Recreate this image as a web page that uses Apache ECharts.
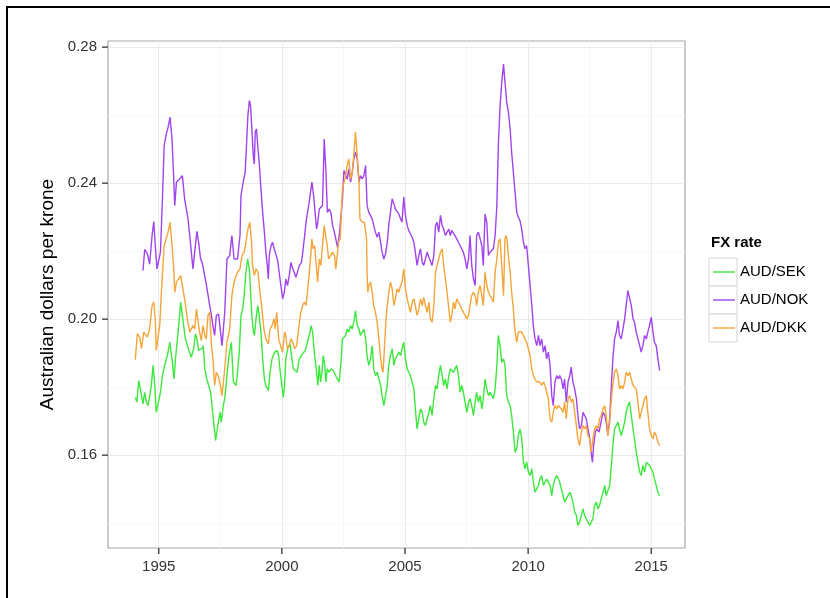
<!DOCTYPE html>
<html>
<head>
<meta charset="utf-8">
<script src="https://cdn.jsdelivr.net/npm/echarts/dist/echarts.min.js"></script>
<style>
html,body{margin:0;padding:0;background:#fff;}
#c{width:830px;height:598px;}
</style>
</head>
<body>
<div id="c"></div>
<script>
var seriesNames = ['AUD/SEK', 'AUD/NOK', 'AUD/DKK'];
var xTicks = [1995, 2000, 2005, 2010, 2015];
var xMinorTicks = [1997.5, 2002.5, 2007.5, 2012.5];
var yTicks = [0.16, 0.20, 0.24, 0.28];
var yMinorTicks = [0.14, 0.18, 0.22, 0.26];
var xRange = [1992.94, 2016.37];
var yRange = [0.1327, 0.2818];

var audSek = [[1994.05,0.1770],[1994.11,0.1756],[1994.19,0.1819],[1994.27,0.1815],[1994.36,0.1751],[1994.43,0.1785],[1994.50,0.1756],[1994.57,0.1746],[1994.63,0.1741],[1994.70,0.1805],[1994.77,0.1864],[1994.84,0.1805],[1994.90,0.1726],[1994.97,0.1731],[1995.07,0.1785],[1995.15,0.1834],[1995.24,0.1864],[1995.35,0.1893],[1995.45,0.1932],[1995.54,0.1883],[1995.62,0.1824],[1995.68,0.1883],[1995.76,0.1942],[1995.85,0.2011],[1995.89,0.2050],[1995.96,0.2011],[1996.03,0.1971],[1996.08,0.1942],[1996.16,0.1937],[1996.23,0.1908],[1996.32,0.1888],[1996.42,0.1913],[1996.49,0.1957],[1996.55,0.1942],[1996.62,0.1908],[1996.70,0.1908],[1996.76,0.1913],[1996.81,0.1922],[1996.87,0.1854],[1996.95,0.1824],[1997.03,0.1819],[1997.11,0.1785],[1997.20,0.1717],[1997.27,0.1672],[1997.31,0.1643],[1997.41,0.1692],[1997.49,0.1726],[1997.54,0.1697],[1997.62,0.1746],[1997.68,0.1766],[1997.77,0.1834],[1997.85,0.1893],[1997.95,0.1932],[1998.03,0.1815],
[1998.14,0.1805],[1998.20,0.1844],[1998.27,0.1903],[1998.34,0.2011],[1998.41,0.2030],[1998.47,0.2070],[1998.54,0.2138],[1998.61,0.2177],[1998.68,0.2148],[1998.73,0.2079],[1998.79,0.2001],[1998.85,0.1962],[1998.89,0.1952],[1998.95,0.2001],[1999.02,0.2040],[1999.08,0.2011],[1999.15,0.1962],[1999.22,0.1883],[1999.29,0.1824],[1999.35,0.1805],[1999.45,0.1790],[1999.52,0.1844],[1999.60,0.1883],[1999.65,0.1893],[1999.71,0.1903],[1999.76,0.1898],[1999.81,0.1908],[1999.87,0.1893],[1999.92,0.1854],[2000.00,0.1805],[2000.06,0.1770],[2000.11,0.1805],[2000.16,0.1883],[2000.25,0.1917],[2000.33,0.1927],[2000.41,0.1883],[2000.46,0.1854],[2000.54,0.1859],[2000.62,0.1844],[2000.71,0.1883],[2000.79,0.1893],[2000.87,0.1898],[2000.95,0.1908],[2001.04,0.1932],[2001.14,0.1962],[2001.19,0.1981],[2001.25,0.1962],[2001.33,0.1893],[2001.41,0.1844],[2001.46,0.1805],[2001.52,0.1864],[2001.57,0.1815],[2001.63,0.1844],[2001.68,0.1893],[2001.73,0.1873],[2001.79,0.1815],[2001.84,0.1854],[2001.92,0.1844],[2002.00,0.1854],[2002.09,0.1849],[2002.17,0.1844],[2002.25,0.1824],[2002.33,0.1815],[2002.41,0.1883],[2002.46,0.1942],
[2002.59,0.1952],[2002.65,0.1971],[2002.72,0.1962],[2002.79,0.1981],[2002.86,0.1971],[2002.92,0.1991],[2002.99,0.2025],[2003.06,0.1981],[2003.13,0.1971],[2003.19,0.1952],[2003.26,0.1962],[2003.33,0.1971],[2003.40,0.1942],[2003.46,0.1893],[2003.53,0.1864],[2003.60,0.1883],[2003.67,0.1922],[2003.73,0.1854],[2003.80,0.1834],[2003.87,0.1844],[2003.94,0.1824],[2004.01,0.1805],[2004.07,0.1775],[2004.14,0.1746],[2004.21,0.1746],[2004.28,0.1805],[2004.34,0.1864],[2004.41,0.1893],[2004.48,0.1913],[2004.55,0.1864],[2004.61,0.1883],[2004.68,0.1893],[2004.75,0.1903],[2004.82,0.1893],[2004.88,0.1913],[2004.95,0.1932],[2005.02,0.1883],[2005.09,0.1854],[2005.15,0.1844],[2005.22,0.1834],[2005.29,0.1815],[2005.36,0.1795],[2005.42,0.1736],[2005.49,0.1677],[2005.56,0.1707],[2005.63,0.1736],[2005.70,0.1726],[2005.76,0.1697],[2005.83,0.1687],[2005.90,0.1707],[2005.97,0.1726],[2006.03,0.1746],[2006.10,0.1717],[2006.17,0.1766],[2006.24,0.1805],[2006.30,0.1795],[2006.37,0.1834],[2006.44,0.1864],[2006.51,0.1834],[2006.57,0.1805],[2006.64,0.1824],[2006.71,0.1795],[2006.78,0.1834],[2006.84,0.1854],
[2006.90,0.1854],[2006.97,0.1844],[2007.03,0.1844],[2007.10,0.1864],[2007.17,0.1834],[2007.24,0.1785],[2007.31,0.1805],[2007.37,0.1785],[2007.44,0.1756],[2007.51,0.1726],[2007.58,0.1756],[2007.64,0.1766],[2007.71,0.1746],[2007.78,0.1717],[2007.85,0.1756],[2007.91,0.1785],[2007.98,0.1756],[2008.05,0.1775],[2008.12,0.1736],[2008.18,0.1766],[2008.25,0.1824],[2008.32,0.1795],[2008.39,0.1775],[2008.45,0.1785],[2008.52,0.1775],[2008.59,0.1766],[2008.66,0.1795],[2008.73,0.1864],[2008.79,0.1952],[2008.86,0.1922],[2008.93,0.1873],[2009.00,0.1883],[2009.06,0.1864],[2009.13,0.1775],[2009.20,0.1756],[2009.27,0.1746],[2009.33,0.1717],[2009.40,0.1668],[2009.47,0.1609],[2009.54,0.1619],[2009.60,0.1658],[2009.67,0.1677],[2009.74,0.1648],[2009.81,0.1580],[2009.87,0.1560],[2009.94,0.1580],[2010.01,0.1550],[2010.08,0.1540],[2010.15,0.1560],[2010.21,0.1521],[2010.28,0.1491],[2010.35,0.1501],[2010.42,0.1511],[2010.48,0.1530],[2010.55,0.1540],[2010.62,0.1511],[2010.69,0.1521],[2010.75,0.1530],[2010.82,0.1521],[2010.89,0.1511],[2010.96,0.1481],[2011.02,0.1511],[2011.09,0.1530],[2011.16,0.1540],[2011.23,0.1530],
[2011.28,0.1521],[2011.35,0.1501],[2011.42,0.1481],[2011.48,0.1462],[2011.55,0.1462],[2011.62,0.1481],[2011.69,0.1491],[2011.75,0.1481],[2011.82,0.1462],[2011.89,0.1432],[2011.96,0.1423],[2012.02,0.1393],[2012.09,0.1403],[2012.16,0.1423],[2012.23,0.1442],[2012.29,0.1423],[2012.36,0.1413],[2012.43,0.1403],[2012.50,0.1393],[2012.57,0.1393],[2012.63,0.1413],[2012.70,0.1452],[2012.77,0.1462],[2012.84,0.1442],[2012.90,0.1452],[2012.97,0.1472],[2013.04,0.1491],[2013.11,0.1511],[2013.17,0.1481],[2013.24,0.1481],[2013.31,0.1511],[2013.38,0.1570],[2013.44,0.1628],[2013.51,0.1677],[2013.58,0.1687],[2013.65,0.1697],[2013.71,0.1677],[2013.78,0.1658],[2013.85,0.1677],[2013.92,0.1697],[2013.98,0.1726],[2014.05,0.1746],[2014.12,0.1756],[2014.19,0.1717],[2014.26,0.1677],[2014.32,0.1648],[2014.39,0.1609],[2014.46,0.1579],[2014.53,0.1550],[2014.59,0.1540],[2014.66,0.1570],[2014.73,0.1550],[2014.80,0.1579],[2014.86,0.1579],[2014.93,0.1570],[2015.00,0.1560],[2015.07,0.1550],[2015.13,0.1530],[2015.20,0.1511],[2015.27,0.1491],[2015.34,0.1481]];

var audNok = [[1994.36,0.2143],[1994.43,0.2205],[1994.54,0.2192],[1994.63,0.2162],[1994.73,0.2246],[1994.80,0.2287],[1994.86,0.2216],[1994.93,0.2148],[1995.00,0.2143],[1995.07,0.2197],[1995.15,0.2354],[1995.22,0.2510],[1995.31,0.2545],[1995.38,0.2564],[1995.46,0.2594],[1995.54,0.2530],[1995.61,0.2412],[1995.65,0.2334],[1995.72,0.2403],[1995.85,0.2412],[1995.96,0.2422],[1996.05,0.2354],[1996.19,0.2295],[1996.30,0.2216],[1996.39,0.2148],[1996.46,0.2197],[1996.55,0.2258],[1996.62,0.2226],[1996.70,0.2177],[1996.76,0.2167],[1996.84,0.2138],[1996.93,0.2104],[1997.00,0.2099],[1997.07,0.2040],[1997.14,0.2011],[1997.20,0.1981],[1997.27,0.1952],[1997.34,0.2011],[1997.43,0.2015],[1997.51,0.1962],[1997.57,0.1922],[1997.68,0.2020],[1997.77,0.2177],[1997.88,0.2187],[1997.97,0.2246],[1998.06,0.2177],
[1998.20,0.2177],[1998.30,0.2246],[1998.34,0.2363],[1998.43,0.2403],[1998.51,0.2432],[1998.57,0.2520],[1998.62,0.2599],[1998.68,0.2643],[1998.73,0.2628],[1998.79,0.2550],[1998.84,0.2481],[1998.88,0.2456],[1998.92,0.2550],[1998.97,0.2559],[1999.03,0.2501],[1999.08,0.2461],[1999.15,0.2383],[1999.22,0.2314],[1999.29,0.2256],[1999.35,0.2197],[1999.41,0.2158],[1999.45,0.2118],[1999.49,0.2187],[1999.56,0.2216],[1999.62,0.2226],[1999.69,0.2207],[1999.76,0.2207],[1999.83,0.2172],[1999.89,0.2138],[1999.96,0.2099],[2000.03,0.2060],[2000.10,0.2079],[2000.16,0.2118],[2000.23,0.2099],[2000.30,0.2128],[2000.37,0.2167],[2000.44,0.2148],[2000.50,0.2138],[2000.57,0.2123],[2000.64,0.2118],[2000.71,0.2158],[2000.80,0.2167],[2000.91,0.2236],[2001.00,0.2295],[2001.11,0.2344],[2001.22,0.2403],[2001.29,0.2363],[2001.35,0.2314],[2001.41,0.2265],[2001.46,0.2285],[2001.52,0.2324],[2001.58,0.2319],[2001.65,0.2334],[2001.72,0.2530],[2001.79,0.2432],[2001.85,0.2314],[2001.92,0.2324],[2001.99,0.2314],[2002.06,0.2275],[2002.13,0.2256],[2002.19,0.2236],[2002.26,0.2211],[2002.33,0.2246],[2002.40,0.2241],[2002.46,0.2354],
[2002.52,0.2437],[2002.59,0.2432],[2002.65,0.2412],[2002.72,0.2442],[2002.79,0.2403],[2002.86,0.2432],[2002.92,0.2471],[2002.99,0.2491],[2003.06,0.2471],[2003.13,0.2403],[2003.19,0.2422],[2003.26,0.2412],[2003.33,0.2422],[2003.40,0.2452],[2003.46,0.2334],[2003.53,0.2314],[2003.60,0.2319],[2003.67,0.2295],[2003.73,0.2275],[2003.80,0.2256],[2003.87,0.2241],[2003.94,0.2256],[2004.01,0.2226],[2004.07,0.2197],[2004.14,0.2177],[2004.21,0.2192],[2004.28,0.2226],[2004.34,0.2275],[2004.41,0.2314],[2004.48,0.2354],[2004.55,0.2339],[2004.61,0.2324],[2004.68,0.2324],[2004.75,0.2309],[2004.82,0.2295],[2004.88,0.2285],[2004.95,0.2359],[2005.02,0.2305],[2005.09,0.2275],[2005.15,0.2261],[2005.22,0.2251],[2005.29,0.2241],[2005.36,0.2226],[2005.42,0.2197],[2005.49,0.2158],[2005.56,0.2187],[2005.63,0.2207],[2005.70,0.2167],[2005.76,0.2158],[2005.83,0.2177],[2005.90,0.2197],[2005.97,0.2182],[2006.03,0.2177],[2006.10,0.2158],[2006.17,0.2187],[2006.24,0.2275],[2006.30,0.2285],[2006.37,0.2256],[2006.44,0.2305],[2006.51,0.2275],[2006.57,0.2265],[2006.64,0.2246],[2006.71,0.2256],[2006.78,0.2265],[2006.84,0.2246],
[2006.90,0.2261],[2006.97,0.2256],[2007.03,0.2246],[2007.10,0.2236],[2007.17,0.2226],[2007.24,0.2216],[2007.31,0.2211],[2007.37,0.2197],[2007.44,0.2177],[2007.51,0.2148],[2007.58,0.2177],[2007.64,0.2246],[2007.71,0.2158],[2007.78,0.2118],[2007.85,0.2099],[2007.91,0.2246],[2007.98,0.2256],[2008.05,0.2236],[2008.12,0.2216],[2008.18,0.2158],[2008.25,0.2309],[2008.32,0.2285],[2008.39,0.2187],[2008.45,0.2197],[2008.52,0.2202],[2008.59,0.2207],[2008.66,0.2246],[2008.73,0.2334],[2008.79,0.2510],[2008.86,0.2628],[2008.93,0.2697],[2009.00,0.2750],[2009.06,0.2697],[2009.13,0.2638],[2009.20,0.2608],[2009.27,0.2559],[2009.33,0.2491],[2009.40,0.2432],[2009.47,0.2373],[2009.54,0.2314],[2009.60,0.2300],[2009.67,0.2290],[2009.74,0.2265],[2009.81,0.2226],[2009.87,0.2207],[2009.94,0.2216],[2010.01,0.2158],[2010.08,0.2099],[2010.15,0.2040],[2010.21,0.1981],[2010.28,0.1942],[2010.35,0.1922],[2010.42,0.1952],[2010.48,0.1922],[2010.55,0.1942],[2010.62,0.1903],[2010.69,0.1922],[2010.75,0.1883],[2010.82,0.1903],[2010.89,0.1864],[2010.96,0.1775],[2011.02,0.1746],[2011.09,0.1815],[2011.16,0.1834],[2011.23,0.1824],
[2011.28,0.1834],[2011.35,0.1824],[2011.42,0.1795],[2011.48,0.1824],[2011.55,0.1756],[2011.62,0.1815],[2011.69,0.1834],[2011.75,0.1859],[2011.82,0.1815],[2011.89,0.1795],[2011.96,0.1766],[2012.02,0.1717],[2012.09,0.1677],[2012.16,0.1687],[2012.23,0.1726],[2012.29,0.1717],[2012.36,0.1707],[2012.43,0.1677],[2012.50,0.1648],[2012.56,0.1609],[2012.61,0.1579],[2012.66,0.1628],[2012.73,0.1668],[2012.79,0.1677],[2012.88,0.1668],[2012.96,0.1697],[2013.04,0.1726],[2013.11,0.1717],[2013.17,0.1697],[2013.24,0.1658],[2013.31,0.1707],[2013.38,0.1805],[2013.44,0.1883],[2013.51,0.1942],[2013.58,0.1962],[2013.65,0.1996],[2013.71,0.1952],[2013.78,0.1942],[2013.85,0.1971],[2013.92,0.2001],[2013.98,0.2040],[2014.05,0.2084],[2014.12,0.2079],[2014.19,0.2040],[2014.26,0.2001],[2014.32,0.1991],[2014.39,0.1962],[2014.46,0.1942],[2014.53,0.1922],[2014.59,0.1903],[2014.66,0.1922],[2014.73,0.1952],[2014.80,0.1942],[2014.86,0.1962],[2014.93,0.1981],[2015.00,0.2006],[2015.07,0.1962],[2015.13,0.1932],[2015.20,0.1922],[2015.27,0.1883],[2015.34,0.1849]];

var audDkk = [[1994.05,0.1881],[1994.13,0.1957],[1994.23,0.1947],[1994.30,0.1913],[1994.39,0.1962],[1994.47,0.1966],[1994.54,0.1947],[1994.63,0.1971],[1994.73,0.2040],[1994.80,0.2050],[1994.86,0.2001],[1994.90,0.1908],[1994.97,0.1903],[1995.04,0.1981],[1995.11,0.2079],[1995.22,0.2216],[1995.28,0.2221],[1995.38,0.2256],[1995.46,0.2285],[1995.54,0.2216],[1995.61,0.2148],[1995.65,0.2079],[1995.72,0.2109],[1995.78,0.2113],[1995.89,0.2128],[1995.96,0.2099],[1996.05,0.2060],[1996.16,0.2001],[1996.26,0.1962],[1996.32,0.1962],[1996.39,0.1981],[1996.46,0.1971],[1996.53,0.2030],[1996.60,0.1991],[1996.66,0.1962],[1996.73,0.1937],[1996.80,0.1981],[1996.87,0.1952],[1996.93,0.1942],[1997.00,0.2011],[1997.07,0.2020],[1997.14,0.1922],[1997.20,0.1883],[1997.27,0.1805],[1997.34,0.1844],[1997.41,0.1834],[1997.51,0.1805],[1997.57,0.1775],[1997.68,0.1854],[1997.77,0.1932],[1997.88,0.1971],[1997.97,0.2069],[1998.06,0.2109],
[1998.20,0.2138],[1998.30,0.2148],[1998.38,0.2187],[1998.47,0.2197],[1998.54,0.2226],[1998.62,0.2265],[1998.70,0.2285],[1998.76,0.2236],[1998.81,0.2158],[1998.88,0.2128],[1998.95,0.2148],[1999.03,0.2138],[1999.11,0.2079],[1999.19,0.2030],[1999.27,0.1971],[1999.35,0.1942],[1999.45,0.1927],[1999.52,0.1971],[1999.60,0.1981],[1999.68,0.2001],[1999.73,0.1971],[1999.79,0.2020],[1999.87,0.1942],[1999.95,0.1922],[2000.03,0.1903],[2000.11,0.1962],[2000.16,0.1952],[2000.22,0.1913],[2000.30,0.1922],[2000.37,0.1942],[2000.44,0.1932],[2000.52,0.1913],[2000.60,0.1922],[2000.68,0.1971],[2000.77,0.2020],[2000.84,0.2040],[2000.91,0.2050],[2000.98,0.2040],[2001.04,0.2079],[2001.14,0.2158],[2001.22,0.2236],[2001.27,0.2207],[2001.33,0.2216],[2001.38,0.2216],[2001.45,0.2109],[2001.52,0.2177],[2001.58,0.2158],[2001.65,0.2158],[2001.72,0.2275],[2001.79,0.2275],[2001.84,0.2216],[2001.90,0.2177],[2001.98,0.2187],[2002.06,0.2197],[2002.14,0.2187],[2002.19,0.2148],[2002.25,0.2187],[2002.30,0.2226],[2002.37,0.2236],[2002.46,0.2383],
[2002.59,0.2422],[2002.65,0.2452],[2002.72,0.2471],[2002.79,0.2412],[2002.86,0.2432],[2002.92,0.2481],[2002.99,0.2550],[2003.06,0.2481],[2003.13,0.2403],[2003.17,0.2295],[2003.26,0.2285],[2003.35,0.2285],[2003.44,0.2236],[2003.46,0.2138],[2003.49,0.2079],[2003.53,0.2099],[2003.60,0.2109],[2003.67,0.2079],[2003.73,0.2040],[2003.80,0.2020],[2003.87,0.1991],[2003.94,0.1942],[2004.01,0.1883],[2004.07,0.1854],[2004.11,0.1844],[2004.17,0.1922],[2004.22,0.1991],[2004.28,0.2040],[2004.34,0.2079],[2004.41,0.2109],[2004.48,0.2089],[2004.55,0.2040],[2004.61,0.2060],[2004.68,0.2089],[2004.75,0.2079],[2004.82,0.2099],[2004.88,0.2109],[2004.95,0.2148],[2005.02,0.2089],[2005.09,0.2060],[2005.15,0.2040],[2005.22,0.2020],[2005.29,0.2050],[2005.36,0.2060],[2005.42,0.2040],[2005.49,0.2011],[2005.56,0.2030],[2005.63,0.2060],[2005.70,0.2040],[2005.76,0.2064],[2005.83,0.2040],[2005.90,0.2020],[2005.97,0.2050],[2006.03,0.2001],[2006.10,0.1991],[2006.17,0.2040],[2006.24,0.2138],[2006.30,0.2158],[2006.37,0.2177],[2006.44,0.2197],[2006.51,0.2207],[2006.57,0.2158],[2006.64,0.2118],[2006.71,0.2079],[2006.78,0.2030],[2006.84,0.1991],
[2006.90,0.2011],[2006.97,0.2050],[2007.03,0.2030],[2007.10,0.2060],[2007.17,0.2050],[2007.24,0.2040],[2007.31,0.2030],[2007.37,0.2020],[2007.44,0.2011],[2007.51,0.2001],[2007.58,0.2011],[2007.64,0.2040],[2007.71,0.2069],[2007.78,0.2079],[2007.85,0.2069],[2007.91,0.2040],[2007.98,0.2079],[2008.05,0.2099],[2008.12,0.2069],[2008.18,0.2040],[2008.25,0.2138],[2008.32,0.2099],[2008.39,0.2079],[2008.45,0.2079],[2008.52,0.2060],[2008.59,0.2050],[2008.66,0.2138],[2008.73,0.2177],[2008.79,0.2226],[2008.86,0.2236],[2008.93,0.2158],[2009.00,0.2069],[2009.06,0.2236],[2009.10,0.2246],[2009.14,0.2236],[2009.20,0.2187],[2009.27,0.2138],[2009.33,0.2079],[2009.40,0.2030],[2009.47,0.1962],[2009.54,0.1932],[2009.60,0.1962],[2009.67,0.1966],[2009.74,0.1962],[2009.81,0.1952],[2009.87,0.1942],[2009.94,0.1932],[2010.01,0.1913],[2010.08,0.1893],[2010.15,0.1854],[2010.21,0.1834],[2010.28,0.1824],[2010.35,0.1815],[2010.42,0.1820],[2010.48,0.1815],[2010.55,0.1805],[2010.62,0.1815],[2010.69,0.1805],[2010.75,0.1785],[2010.82,0.1766],[2010.89,0.1707],[2010.96,0.1697],[2011.02,0.1726],[2011.09,0.1746],[2011.16,0.1736],[2011.23,0.1746],
[2011.28,0.1746],[2011.35,0.1736],[2011.42,0.1726],[2011.48,0.1756],[2011.55,0.1707],[2011.62,0.1766],[2011.69,0.1775],[2011.75,0.1756],[2011.82,0.1766],[2011.89,0.1726],[2011.96,0.1687],[2012.02,0.1648],[2012.09,0.1628],[2012.16,0.1668],[2012.23,0.1687],[2012.29,0.1677],[2012.36,0.1687],[2012.43,0.1658],[2012.50,0.1648],[2012.56,0.1609],[2012.63,0.1648],[2012.70,0.1677],[2012.77,0.1687],[2012.84,0.1677],[2012.90,0.1707],[2012.97,0.1717],[2013.04,0.1736],[2013.11,0.1746],[2013.17,0.1717],[2013.24,0.1658],[2013.31,0.1697],[2013.38,0.1766],[2013.44,0.1805],[2013.51,0.1844],[2013.58,0.1854],[2013.65,0.1834],[2013.71,0.1795],[2013.78,0.1805],[2013.85,0.1795],[2013.92,0.1815],[2013.98,0.1844],[2014.05,0.1834],[2014.12,0.1844],[2014.19,0.1824],[2014.26,0.1805],[2014.32,0.1800],[2014.39,0.1795],[2014.46,0.1756],[2014.53,0.1707],[2014.59,0.1726],[2014.66,0.1746],[2014.73,0.1766],[2014.80,0.1775],[2014.86,0.1726],[2014.93,0.1677],[2015.00,0.1658],[2015.07,0.1648],[2015.13,0.1668],[2015.20,0.1658],[2015.27,0.1638],[2015.34,0.1628]];

var colors = ['#3de83d', '#a044ee', '#f5a53a'];
var seriesData = [audSek, audNok, audDkk];

var font = '"Liberation Sans", Arial, sans-serif';
var chart = echarts.init(document.getElementById('c'), null, {renderer: 'canvas'});

var gridLines = [];
yMinorTicks.forEach(function (v) { gridLines.push({yAxis: v, lineStyle: {color: '#f7f7f7', width: 1, type: 'solid'}}); });
xMinorTicks.forEach(function (v) { gridLines.push({xAxis: v, lineStyle: {color: '#f7f7f7', width: 1, type: 'solid'}}); });
yTicks.forEach(function (v) { gridLines.push({yAxis: v, lineStyle: {color: '#ebebeb', width: 1, type: 'solid'}}); });
xTicks.forEach(function (v) { gridLines.push({xAxis: v, lineStyle: {color: '#ebebeb', width: 1, type: 'solid'}}); });

var series = [{
  type: 'line', name: '_grid', data: [], silent: true, z: 1,
  markLine: {silent: true, z: 1, symbol: ['none', 'none'], label: {show: false}, animation: false,
             lineStyle: {type: 'solid'}, data: gridLines}
}];
seriesNames.forEach(function (n, i) {
  series.push({
    type: 'line', name: n, data: seriesData[i], showSymbol: false, symbol: 'none',
    lineStyle: {color: colors[i], width: 1.4}, itemStyle: {color: colors[i]}, z: 10 + i
  });
});

var rowCenters = [272, 300, 328];
var rowH = 28;
var legends = seriesNames.map(function (n, i) {
  return {
    data: [n], left: 713, top: rowCenters[i] - 10, padding: 0,
    itemWidth: 22, itemHeight: 20, itemGap: 0,
    icon: 'path://M0,9H22V10.4H0Z',
    textStyle: {fontSize: 15, color: '#000', fontFamily: font, lineHeight: 20, padding: [0, 0, 0, 0]},
    selectedMode: false
  };
});
var keyBoxes = seriesNames.map(function (n, i) {
  return {type: 'rect', shape: {x: 709, y: rowCenters[i] - rowH / 2, width: 28, height: rowH},
          style: {fill: '#fff', stroke: '#d6d6d6', lineWidth: 1}, z: -1, silent: true};
});
var frame = [
  {type: 'line', shape: {x1: 6, y1: 7, x2: 830, y2: 7}, style: {stroke: '#000', lineWidth: 2}, silent: true},
  {type: 'line', shape: {x1: 7, y1: 6, x2: 7, y2: 598}, style: {stroke: '#000', lineWidth: 2}, silent: true}
];

chart.setOption({
  animation: false,
  backgroundColor: '#fff',
  textStyle: {fontFamily: font},
  grid: {left: 108, right: 145, top: 41, bottom: 50, show: true, borderColor: '#a8a8a8', borderWidth: 1.2, backgroundColor: '#fff'},
  xAxis: {
    type: 'value', min: xRange[0], max: xRange[1],
    axisLine: {show: false},
    axisTick: {show: false},
    axisLabel: {color: '#333', fontSize: 15, margin: 11, fontFamily: font, customValues: xTicks, formatter: function (v) { return String(v); }},
    splitLine: {show: false}
  },
  yAxis: {
    type: 'value', min: yRange[0], max: yRange[1],
    name: 'Australian dollars per krone', nameLocation: 'middle', nameGap: 49,
    nameTextStyle: {color: '#000', fontSize: 19, fontFamily: font},
    axisLine: {show: false},
    axisTick: {show: false},
    axisLabel: {color: '#333', fontSize: 15, margin: 11, fontFamily: font, customValues: yTicks, formatter: function (v) { return v.toFixed(2); }},
    splitLine: {show: false}
  },
  title: {text: 'FX rate', left: 711, top: 235, padding: 0, textStyle: {fontSize: 15, fontWeight: 'bold', color: '#000', fontFamily: font}},
  legend: legends,
  graphic: frame.concat(keyBoxes),
  series: series
});

// Axis tick marks positioned through the chart's own scales
var TICK_LEN = 6;
var ticks = [];
xTicks.forEach(function (v) {
  var p = chart.convertToPixel({gridIndex: 0}, [v, yRange[0]]);
  ticks.push({type: 'line', shape: {x1: p[0], y1: p[1], x2: p[0], y2: p[1] + TICK_LEN},
              style: {stroke: '#333', lineWidth: 1.3}, silent: true, z: 50});
});
yTicks.forEach(function (v) {
  var p = chart.convertToPixel({gridIndex: 0}, [xRange[0], v]);
  ticks.push({type: 'line', shape: {x1: p[0] - TICK_LEN, y1: p[1], x2: p[0], y2: p[1]},
              style: {stroke: '#333', lineWidth: 1.3}, silent: true, z: 50});
});
chart.setOption({graphic: frame.concat(keyBoxes).concat(ticks)});
</script>
</body>
</html>
